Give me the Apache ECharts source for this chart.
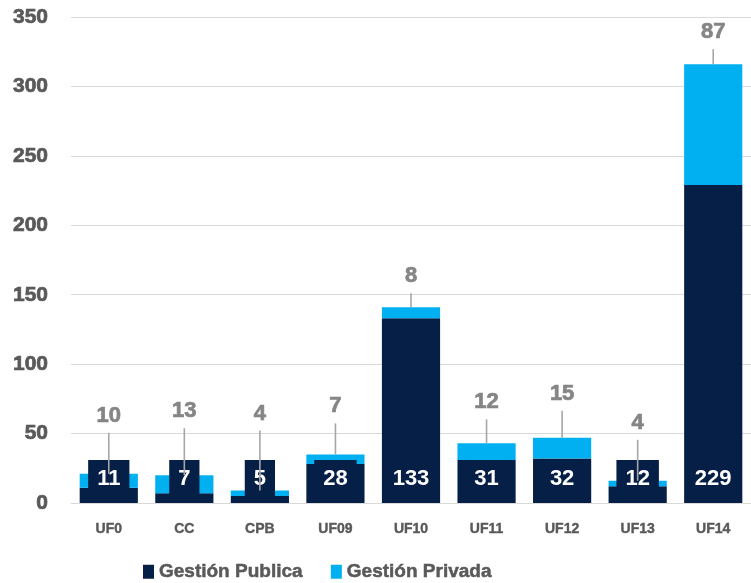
<!DOCTYPE html>
<html><head><meta charset="utf-8">
<script src="https://cdn.jsdelivr.net/npm/echarts@6/dist/echarts.min.js"></script>
<style>html,body{margin:0;padding:0;background:#fff}#c{width:751px;height:583px}</style>
</head><body><div id="c"></div>
<script>
const categories = ['UF0','CC','CPB','UF09','UF10','UF11','UF12','UF13','UF14'];
const gestionPublica = [11,7,5,28,133,31,32,12,229];
const gestionPrivada = [10,13,4,7,8,12,15,4,87];
const yMin = 0, yMax = 350, yStep = 50;
// callout rise (px) of each Gestión Privada label centre above the top of its bar
const privadaLabelRise = [59,65,78,49,32,42,45,59,33];

const NAVY = '#061f46', CYAN = '#00b0f0';
const FONT = "'Liberation Sans', Arial, sans-serif";
const AXIS_GRAY = '#595959', LABEL_GRAY = '#858585';

const calloutData = categories.map((c, i) => [i, gestionPublica[i] + gestionPrivada[i], gestionPrivada[i]]);

const chart = echarts.init(document.getElementById('c'), null, {renderer: 'canvas'});
chart.setOption({
  animation: false,
  backgroundColor: '#ffffff',
  grid: {left: 71, right: -10, top: 17, bottom: 80, containLabel: false},
  legend: {
    left: 143, top: 562, padding: 0, icon: 'rect', itemWidth: 11, itemHeight: 14, itemGap: 28,
    textStyle: {fontFamily: FONT, fontSize: 19, fontWeight: 'bold', color: AXIS_GRAY,
      textBorderColor: AXIS_GRAY, textBorderWidth: 0.5},
    data: ['Gestión Publica', 'Gestión Privada']
  },
  xAxis: {
    type: 'category', data: categories,
    axisLine: {lineStyle: {color: '#d9d9d9', width: 1}},
    axisTick: {show: false},
    axisLabel: {margin: 19, fontFamily: FONT, fontSize: 14, fontWeight: 'bold', color: AXIS_GRAY,
      textBorderColor: AXIS_GRAY, textBorderWidth: 0.4}
  },
  yAxis: {
    type: 'value', min: yMin, max: yMax, interval: yStep,
    axisLine: {show: false}, axisTick: {show: false},
    splitLine: {lineStyle: {color: '#d9d9d9', width: 1}},
    axisLabel: {margin: 23, fontFamily: FONT, fontSize: 21, fontWeight: 'bold', color: AXIS_GRAY,
      textBorderColor: AXIS_GRAY, textBorderWidth: 0.7}
  },
  series: [
    {
      name: 'Gestión Publica', type: 'bar', stack: 'total', data: gestionPublica,
      barCategoryGap: '23%',
      itemStyle: {color: NAVY},
      label: {
        show: true, position: 'insideBottom', distance: 5,
        backgroundColor: NAVY, padding: [8, 9, 8, 9],
        fontFamily: FONT, fontSize: 22, lineHeight: 22, fontWeight: 'bold', color: '#ffffff'
      }
    },
    {
      name: 'Gestión Privada', type: 'bar', stack: 'total', data: gestionPrivada,
      barCategoryGap: '23%',
      itemStyle: {color: CYAN}
    },
    {
      name: 'callouts', type: 'custom', z: 10, silent: true,
      data: calloutData,
      encode: {x: 0, y: 1},
      renderItem: function (params, api) {
        const i = api.value(0);
        const top = api.coord([i, api.value(1)]);
        const rise = privadaLabelRise[i];
        const cy = top[1] - rise;
        return {
          type: 'group',
          children: [
            {type: 'line', shape: {x1: top[0], y1: cy + 18, x2: top[0], y2: top[1]},
             style: {stroke: '#a6a6a6', lineWidth: 1.6}},
            {type: 'text', style: {text: String(api.value(2)), x: top[0], y: cy + 1,
             align: 'center', verticalAlign: 'middle',
             fontFamily: FONT, fontSize: 22, fontWeight: 'bold', fill: LABEL_GRAY,
             stroke: LABEL_GRAY, lineWidth: 0.7}}
          ]
        };
      }
    }
  ]
});
</script></body></html>
